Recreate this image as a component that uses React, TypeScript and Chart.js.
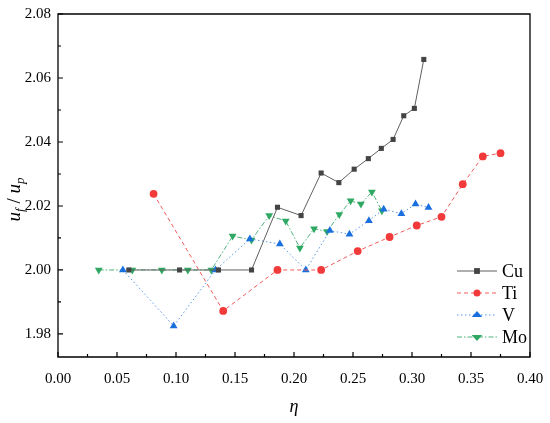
import React, { useEffect, useRef } from "react";
import { Chart, registerables } from "chart.js";

Chart.register(...registerables);

const cuX = [0.060, 0.103, 0.136, 0.164, 0.186, 0.206, 0.223, 0.238, 0.251, 0.263, 0.274, 0.284, 0.293, 0.302, 0.310];
const cuY = [2.0, 2.0, 2.0, 2.0, 2.0196, 2.017, 2.0303, 2.0273, 2.0315, 2.0348, 2.038, 2.0408, 2.0482, 2.0505, 2.0658];

const tiX = [0.081, 0.140, 0.186, 0.223, 0.254, 0.281, 0.304, 0.325, 0.343, 0.360, 0.375];
const tiY = [2.0238, 1.9872, 2.0, 2.0, 2.0059, 2.0103, 2.0139, 2.0166, 2.0268, 2.0355, 2.0365];

const vX = [0.055, 0.098, 0.1335, 0.1626, 0.188, 0.210, 0.2304, 0.247, 0.2635, 0.276, 0.291, 0.303, 0.314];
const vY = [2.0, 1.9825, 2.0, 2.0097, 2.0081, 2.0, 2.0123, 2.0112, 2.0154, 2.019, 2.0176, 2.0206, 2.0195];

const moX = [0.0345, 0.063, 0.088, 0.110, 0.130, 0.148, 0.164, 0.179, 0.193, 0.205, 0.217, 0.228, 0.2384, 0.248, 0.2567, 0.266, 0.2745];
const moY = [2.0, 2.0, 2.0, 2.0, 2.0, 2.0106, 2.0094, 2.017, 2.0153, 2.0069, 2.0129, 2.012, 2.0173, 2.0216, 2.0206, 2.0244, 2.0185];

const seriesNames = ["Cu", "Ti", "V", "Mo"];

const xTicks = [0.0, 0.05, 0.1, 0.15, 0.2, 0.25, 0.3, 0.35, 0.4];
const xMinorTicks = [0.025, 0.075, 0.125, 0.175, 0.225, 0.275, 0.325, 0.375];
const yTicks = [1.98, 2.0, 2.02, 2.04, 2.06, 2.08];
const yMinorTicks = [1.99, 2.01, 2.03, 2.05, 2.07];

const X_MIN = 0;
const X_MAX = 0.4;
const Y_MIN = 1.9728;
const Y_MAX = 2.08;

const FONT = "Liberation Serif";

const styles = [
  { line: "#606060", point: "#444444", dash: [] as number[], pointStyle: "rect", radius: 3.6, rotation: 0 },
  { line: "#f25a5a", point: "#f23a3a", dash: [4, 3], pointStyle: "circle", radius: 3.9, rotation: 0 },
  { line: "#5a93e8", point: "#1a6fdf", dash: [1.5, 2.5], pointStyle: "triangle", radius: 4.5, rotation: 0 },
  { line: "#4fb37c", point: "#2ea862", dash: [5, 2, 1.5, 2], pointStyle: "triangle", radius: 4.5, rotation: 180 },
];

function toPoints(xs: number[], ys: number[]) {
  return xs.map((x, i) => ({ x, y: ys[i] }));
}

function drawMarker(ctx: CanvasRenderingContext2D, style: string, x: number, y: number, r: number, rot: number) {
  ctx.beginPath();
  if (style === "rect") {
    const s = r * 1.8;
    ctx.rect(x - s / 2, y - s / 2, s, s);
  } else if (style === "circle") {
    ctx.arc(x, y, r, 0, Math.PI * 2);
  } else {
    const up = rot === 0 ? -1 : 1;
    const h = r * 1.5;
    ctx.moveTo(x, y + up * r);
    ctx.lineTo(x - h * 0.87, y - up * r * 0.5);
    ctx.lineTo(x + h * 0.87, y - up * r * 0.5);
    ctx.closePath();
  }
  ctx.fill();
}

const decorPlugin = {
  id: "decor",
  afterDraw(chart: any) {
    const ctx: CanvasRenderingContext2D = chart.ctx;
    const area = chart.chartArea;
    const xs = chart.scales.x;
    const ys = chart.scales.y;
    ctx.save();
    // frame
    ctx.strokeStyle = "#000";
    ctx.lineWidth = 1.3;
    ctx.beginPath();
    ctx.moveTo(area.left, area.top);
    ctx.lineTo(area.right, area.top);
    ctx.lineTo(area.right, area.bottom);
    ctx.lineTo(area.left, area.bottom);
    ctx.closePath();
    ctx.stroke();
    // ticks inward
    ctx.lineWidth = 1.2;
    ctx.beginPath();
    xTicks.forEach((v) => {
      const px = xs.getPixelForValue(v);
      ctx.moveTo(px, area.bottom);
      ctx.lineTo(px, area.bottom - 5);
    });
    xMinorTicks.forEach((v) => {
      const px = xs.getPixelForValue(v);
      ctx.moveTo(px, area.bottom);
      ctx.lineTo(px, area.bottom - 3);
    });
    yTicks.forEach((v) => {
      const py = ys.getPixelForValue(v);
      ctx.moveTo(area.left, py);
      ctx.lineTo(area.left + 5, py);
    });
    yMinorTicks.forEach((v) => {
      const py = ys.getPixelForValue(v);
      ctx.moveTo(area.left, py);
      ctx.lineTo(area.left + 3, py);
    });
    ctx.stroke();

    // legend
    const lx0 = area.right - 73;
    const lx1 = area.right - 33;
    const ly0 = area.top + 257;
    const gap = 22;
    seriesNames.forEach((name, i) => {
      const st = styles[i];
      const y = ly0 + i * gap;
      ctx.strokeStyle = st.line;
      ctx.lineWidth = 1;
      ctx.setLineDash(st.dash);
      ctx.beginPath();
      ctx.moveTo(lx0, y);
      ctx.lineTo(lx1, y);
      ctx.stroke();
      ctx.setLineDash([]);
      ctx.fillStyle = st.point;
      drawMarker(ctx, st.pointStyle, (lx0 + lx1) / 2, y, st.radius * 0.9, st.rotation);
      ctx.fillStyle = "#000";
      ctx.font = `18px "${FONT}"`;
      ctx.textAlign = "left";
      ctx.textBaseline = "middle";
      ctx.fillText(name, lx1 + 5, y + 1);
    });

    // x title
    ctx.fillStyle = "#000";
    ctx.font = `italic 18px "${FONT}"`;
    ctx.textAlign = "center";
    ctx.textBaseline = "middle";
    ctx.fillText("η", (area.left + area.right) / 2, 407);

    // y title with subscripts
    ctx.translate(20, (area.top + area.bottom) / 2 + 14);
    ctx.rotate(-Math.PI / 2);
    ctx.textAlign = "left";
    ctx.textBaseline = "alphabetic";
    const big = `italic 19px "${FONT}"`;
    const small = `italic 13px "${FONT}"`;
    const parts: [string, string, number][] = [
      ["u", big, 0],
      ["f", small, 4],
      [" / ", `19px "${FONT}"`, 0],
      ["u", big, 0],
      ["p", small, 4],
    ];
    let total = 0;
    parts.forEach(([t, f]) => {
      ctx.font = f;
      total += ctx.measureText(t).width;
    });
    let cx = -total / 2;
    parts.forEach(([t, f, dy]) => {
      ctx.font = f;
      ctx.fillText(t, cx, dy);
      cx += ctx.measureText(t).width;
    });
    ctx.restore();
  },
};

export default function App() {
  const ref = useRef<HTMLCanvasElement | null>(null);
  useEffect(() => {
    if (!ref.current) return;
    const all = [
      toPoints(cuX, cuY),
      toPoints(tiX, tiY),
      toPoints(vX, vY),
      toPoints(moX, moY),
    ];
    const chart = new Chart(ref.current, {
      type: "line",
      data: {
        datasets: all.map((d, i) => ({
          label: seriesNames[i],
          data: d,
          borderColor: styles[i].line,
          borderWidth: 1,
          borderDash: styles[i].dash,
          backgroundColor: styles[i].point,
          pointBackgroundColor: styles[i].point,
          pointBorderColor: styles[i].point,
          pointBorderWidth: 0,
          pointStyle: styles[i].pointStyle as any,
          pointRadius: styles[i].radius,
          pointRotation: styles[i].rotation,
          fill: false,
          tension: 0,
        })),
      },
      options: {
        animation: false,
        responsive: true,
        maintainAspectRatio: false,
        layout: { padding: { left: 0, top: 14, right: 20, bottom: 0 } },
        plugins: { legend: { display: false }, tooltip: { enabled: false } },
        scales: {
          x: {
            type: "linear",
            min: X_MIN,
            max: X_MAX,
            grid: { display: false, drawTicks: false },
            border: { display: false },
            afterBuildTicks: (s: any) => {
              s.ticks = xTicks.map((v) => ({ value: v }));
            },
            afterFit: (s: any) => {
              s.height = 66;
              s.paddingLeft = 0;
              s.paddingRight = 0;
            },
            ticks: {
              padding: 13,
              color: "#000",
              font: { family: FONT, size: 15 },
              callback: (v: any) => Number(v).toFixed(2),
              maxRotation: 0,
              autoSkip: false,
            },
          },
          y: {
            type: "linear",
            min: Y_MIN,
            max: Y_MAX,
            grid: { display: false, drawTicks: false },
            border: { display: false },
            afterBuildTicks: (s: any) => {
              s.ticks = yTicks.map((v) => ({ value: v }));
            },
            afterFit: (s: any) => {
              s.width = 58;
              s.paddingTop = 0;
              s.paddingBottom = 0;
            },
            ticks: {
              padding: 7,
              color: "#000",
              font: { family: FONT, size: 15 },
              callback: (v: any) => Number(v).toFixed(2),
              autoSkip: false,
            },
          },
        },
      },
      plugins: [decorPlugin],
    });
    return () => chart.destroy();
  }, []);
  return (
    <div style={{ position: "fixed", left: 0, top: 0, width: 550, height: 423, background: "#fff" }}>
      <canvas ref={ref} />
    </div>
  );
}
